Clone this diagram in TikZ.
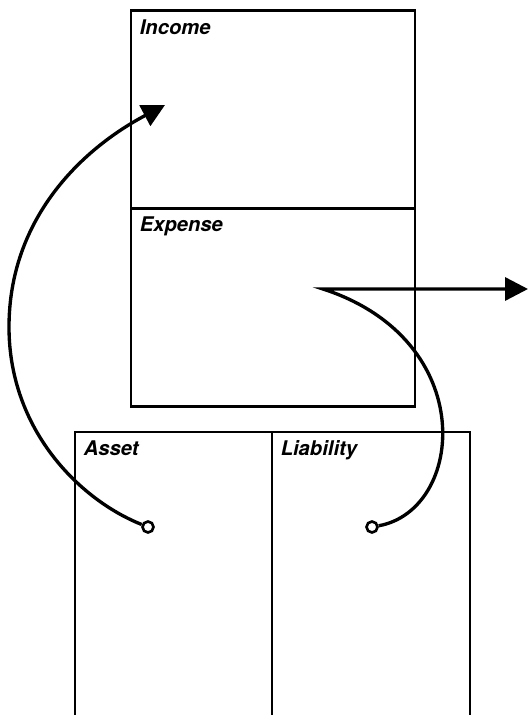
\documentclass[tikz,border=0pt]{standalone}
\usepackage{fontspec}
\newfontfamily\tagfont{TeX Gyre Heros}
\usetikzlibrary{arrows.meta,positioning}
\tikzset{
  acct/.style={draw, line width=1.5pt, outer sep=0pt, inner sep=0pt, minimum width=#1},
  tag/.style={anchor=north west, inner sep=5pt, outer sep=0pt, font=\tagfont\bfseries\itshape\fontsize{11.5}{13}\selectfont},
  flow/.style={line width=1.9pt, -{Triangle[length=13pt, width=13pt]}},
  dot/.style={circle, draw, fill=white, line width=1.5pt, minimum size=0.22cm, inner sep=0pt},
}

\begin{document}
\begin{tikzpicture}[x=0.02cm,y=-0.02cm]
  \useasboundingbox (0,0) rectangle (529,715);
  % income statement
  \node[acct=5.68cm, minimum height=3.96cm] (income) at (273,109.5) {};
  \node[acct=5.68cm, minimum height=3.96cm, below=0pt of income] (expense) {};
  % balance sheet, runs off the bottom
  \node[acct=3.94cm, minimum height=5.86cm] (asset) at (173.5,578.5) {};
  \node[acct=3.96cm, minimum height=5.86cm, right=0pt of asset] (liability) {};
  \node[tag] (incometag) at (income.north west) {Income};
  \node[tag] (expensetag) at (expense.north west) {Expense};
  \node[tag] (assettag) at (asset.north west) {Asset};
  \node[tag] (liabilitytag) at (liability.north west) {Liability};
  % flows
  \node[dot] (adot) at (148,527) {};
  \node[dot] (ldot) at (372,527) {};
  \coordinate (inctip) at (165,105);
  \coordinate (bend) at (323,289);
  \coordinate (outtip) at (528,289);
  \draw[flow] (adot) .. controls (80,500) and (9,430) .. (9,327)
    .. controls (9,220) and (80,150) .. (inctip);
  \draw[flow] (ldot) .. controls (465,510) and (480,340) .. (bend) -- (outtip);
\end{tikzpicture}
\end{document}
